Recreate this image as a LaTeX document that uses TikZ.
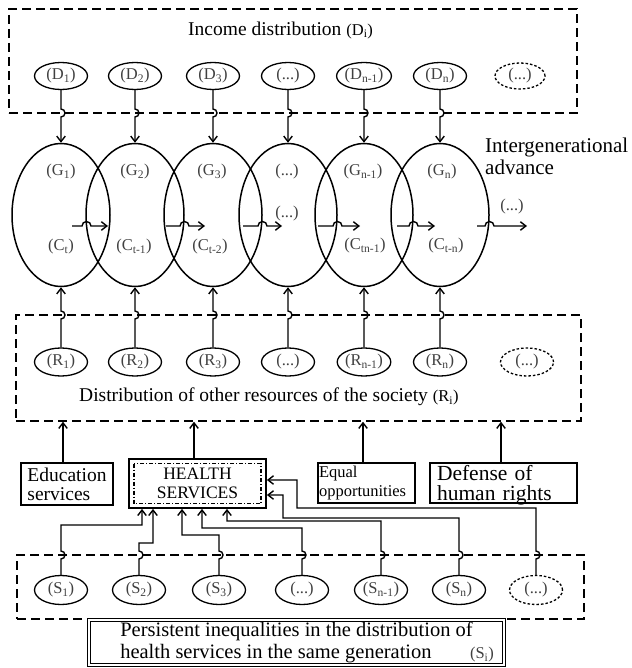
\documentclass[tikz,border=0pt]{standalone}
\usepackage{fontspec}
\setmainfont{Liberation Serif}
\usetikzlibrary{shapes.geometric,arrows.meta}
\newcommand\lblfont{\fontsize{16.5}{16.5}\selectfont}
\begin{document}
\begin{tikzpicture}[x=1pt,y=-1pt,
  lbl/.style={font=\lblfont, text=black!75},
  small/.style={draw, ellipse, line width=1.3pt, minimum width=53pt, minimum height=27pt, inner sep=0pt, lbl},
  smalldash/.style={small, dash pattern=on 2.5pt off 2pt},
  gen/.style={draw, ellipse, line width=1.5pt, minimum width=98pt, minimum height=143pt, inner sep=0pt},
  group/.style={draw, dash pattern=on 9pt off 5pt, line width=1.5pt, inner sep=0pt},
  box/.style={draw, line width=1.5pt, inner sep=0pt, align=left},
  txt/.style={font=\fontsize{19.5}{19}\selectfont, inner sep=0pt},
  link/.style={line width=1.4pt},
  arr/.style={link, -{Straight Barb[length=5.5pt,width=8.5pt]}},
]
\useasboundingbox (0,0) rectangle (631,668);

% ---------- income distribution ----------
\node[group, minimum width=568pt, minimum height=104pt] (Dbox) at (293,61) {};
\node[txt, anchor=west] (Dtitle) at (188,30) {Income distribution {\lblfont(D\textsubscript{i})}};
\node[small] (D1) at (61,76)  {(D\textsubscript{1})};
\node[small] (D2) at (135,76) {(D\textsubscript{2})};
\node[small] (D3) at (213,76) {(D\textsubscript{3})};
\node[small] (D4) at (288,76) {(...)};
\node[small] (D5) at (364,76) {(D\textsubscript{n-1})};
\node[small] (D6) at (440,76) {(D\textsubscript{n})};
\node[smalldash, minimum width=50pt, minimum height=26pt] (D7) at (520,76) {(...)};

% ---------- generations ----------
\node[gen] (G1) at (61,215)  {};
\node[gen] (G2) at (135,215) {};
\node[gen] (G3) at (213,215) {};
\node[gen] (G4) at (288,215) {};
\node[gen] (G5) at (364,215) {};
\node[gen] (G6) at (440,215) {};

\node[lbl] (g1) at (61,172)  {(G\textsubscript{1})};
\node[lbl] (g2) at (135,172) {(G\textsubscript{2})};
\node[lbl] (g3) at (212,172) {(G\textsubscript{3})};
\node[lbl] (g4) at (287,172) {(...)};
\node[lbl] (g5) at (363,172) {(G\textsubscript{n-1})};
\node[lbl] (g6) at (442,172) {(G\textsubscript{n})};
\node[lbl] (c1) at (61,247)  {(C\textsubscript{t})};
\node[lbl] (c2) at (134,247) {(C\textsubscript{t-1})};
\node[lbl] (c3) at (210,247) {(C\textsubscript{t-2})};
\node[lbl] (c4) at (287,214) {(...)};
\node[lbl] (c5) at (365,246) {(C\textsubscript{tn-1})};
\node[lbl] (c6) at (446,246) {(C\textsubscript{t-n})};
\node[lbl] (more) at (512,207) {(...)};

\node[font=\fontsize{21}{22}\selectfont, align=left, anchor=west, inner sep=0pt] (adv) at (485,156)
  {Intergenerational\\advance};

% advance arrows hopping over the ellipse outlines
\coordinate (h1a) at (72,226);  \coordinate (h1b) at (108,226);
\coordinate (h2a) at (166,226); \coordinate (h2b) at (205,226);
\coordinate (h3a) at (243,226); \coordinate (h3b) at (282,226);
\coordinate (h4a) at (318,226); \coordinate (h4b) at (360,226);
\coordinate (h5a) at (397,226); \coordinate (h5b) at (435,226);
\coordinate (h6a) at (477,226); \coordinate (h6b) at (527,226);
\draw[arr] (h1a) -- (82,226)  arc[start angle=180,end angle=360,radius=4.5] -- (h1b);
\draw[arr] (h2a) -- (180,226) arc[start angle=180,end angle=360,radius=4.5] -- (h2b);
\draw[arr] (h3a) -- (258,226) arc[start angle=180,end angle=360,radius=4.5] -- (h3b);
\draw[arr] (h4a) -- (333,226) arc[start angle=180,end angle=360,radius=4.5] -- (h4b);
\draw[arr] (h5a) -- (409,226) arc[start angle=180,end angle=360,radius=4.5] -- (h5b);
\draw[arr] (h6a) -- (485,226) arc[start angle=180,end angle=360,radius=4.5] -- (h6b);

% income into generations
\draw[arr] (D1) -- (61,109)  arc[start angle=-90,end angle=90,radius=4] -- (G1);
\draw[arr] (D2) -- (135,109) arc[start angle=-90,end angle=90,radius=4] -- (G2);
\draw[arr] (D3) -- (213,109) arc[start angle=-90,end angle=90,radius=4] -- (G3);
\draw[arr] (D4) -- (288,109) arc[start angle=-90,end angle=90,radius=4] -- (G4);
\draw[arr] (D5) -- (364,109) arc[start angle=-90,end angle=90,radius=4] -- (G5);
\draw[arr] (D6) -- (440,109) arc[start angle=-90,end angle=90,radius=4] -- (G6);

% ---------- other resources ----------
\node[group, minimum width=565pt, minimum height=106pt] (Rbox) at (298.5,368) {};
\node[small, minimum height=28pt] (R1) at (61,362)  {(R\textsubscript{1})};
\node[small, minimum height=28pt] (R2) at (135,362) {(R\textsubscript{2})};
\node[small, minimum height=28pt] (R3) at (213,362) {(R\textsubscript{3})};
\node[small, minimum height=28pt] (R4) at (288,362) {(...)};
\node[small, minimum height=28pt] (R5) at (364,362) {(R\textsubscript{n-1})};
\node[small, minimum height=28pt] (R6) at (440,362) {(R\textsubscript{n})};
\node[smalldash, minimum height=28pt] (R7) at (527,362) {(...)};
\node[txt, anchor=west] (Rtitle) at (79,397) {Distribution of other resources of the society {\lblfont(R\textsubscript{i})}};

\draw[arr] (R1) -- (61,319)  arc[start angle=90,end angle=-90,radius=4] -- (G1);
\draw[arr] (R2) -- (135,319) arc[start angle=90,end angle=-90,radius=4] -- (G2);
\draw[arr] (R3) -- (213,319) arc[start angle=90,end angle=-90,radius=4] -- (G3);
\draw[arr] (R4) -- (288,319) arc[start angle=90,end angle=-90,radius=4] -- (G4);
\draw[arr] (R5) -- (364,319) arc[start angle=90,end angle=-90,radius=4] -- (G5);
\draw[arr] (R6) -- (440,319) arc[start angle=90,end angle=-90,radius=4] -- (G6);

% ---------- services and rights ----------
\node[box, txt, minimum width=92pt, minimum height=42pt] (Edu) at (67,484)
  {Education\\services};
\node[box, line width=1.8pt, minimum width=137pt, minimum height=49pt, align=center,
      font=\fontsize{17.5}{19}\selectfont] (Hbox) at (197.5,483.5) {HEALTH\\SERVICES};
\draw[line width=1.1pt, dash pattern=on 4pt off 2pt on 1pt off 2pt] (134,463.5) rectangle (261,503.5);
\node[box, minimum width=97pt, minimum height=40pt, text width=95pt, inner xsep=1pt,
      font=\fontsize{16.5}{18.5}\selectfont] (Eq) at (366.5,483)
  {Equal\\opportunities};
\node[box, minimum width=147pt, minimum height=40pt, text width=133pt, inner xsep=7pt, inner ysep=-3pt,
      font=\fontsize{21.5}{20}\selectfont] (Def) at (503.5,483) {\rule{0pt}{20pt}Defense of\\human rights};

\draw[arr] (Edu.north -| 63,0)  -- (Rbox.south -| 63,0);
\draw[arr] (Hbox.north -| 194,0) -- (Rbox.south -| 194,0);
\draw[arr] (Eq.north -| 363,0)  -- (Rbox.south -| 363,0);
\draw[arr] (Def.north -| 501,0) -- (Rbox.south -| 501,0);

% ---------- inequalities within a generation ----------
\node[group, minimum width=567pt, minimum height=64pt] (Sbox) at (300.5,587) {};
\node[small, minimum height=29pt] (S1) at (61,590)  {(S\textsubscript{1})};
\node[small, minimum height=29pt] (S2) at (139,590) {(S\textsubscript{2})};
\node[small, minimum height=29pt] (S3) at (219,590) {(S\textsubscript{3})};
\node[small, minimum height=29pt] (S4) at (302,590) {(...)};
\node[small, minimum height=29pt] (S5) at (381,590) {(S\textsubscript{n-1})};
\node[small, minimum height=29pt] (S6) at (459,590) {(S\textsubscript{n})};
\node[smalldash, minimum height=29pt] (S7) at (536,590) {(...)};

\draw[arr] (S1) -- (61,559)  arc[start angle=90,end angle=-90,radius=4] -- (61,525)  -- (142,525) -- (Hbox.south -| 142,0);
\draw[arr] (S2) -- (139,559) arc[start angle=90,end angle=-90,radius=4] -- (139,543) -- (153,543) -- (Hbox.south -| 153,0);
\draw[arr] (S3) -- (219,559) arc[start angle=90,end angle=-90,radius=4] -- (219,535) -- (182,535) -- (Hbox.south -| 182,0);
\draw[arr] (S4) -- (302,559) arc[start angle=90,end angle=-90,radius=4] -- (302,528) -- (202,528) -- (Hbox.south -| 202,0);
\draw[arr] (S5) -- (381,559) arc[start angle=90,end angle=-90,radius=4] -- (381,521) -- (227,521) -- (Hbox.south -| 227,0);
\draw[arr] (S6) -- (459,559) arc[start angle=90,end angle=-90,radius=4] -- (459,518) -- (283,518) -- (283,495) -- (Hbox.east |- 0,495);
\draw[arr] (S7) -- (536,559) arc[start angle=90,end angle=-90,radius=4] -- (536,508) -- (297,508) -- (297,480) -- (Hbox.east |- 0,480);

\node[draw, double, double distance=2.5pt, line width=1pt, minimum width=415pt, minimum height=45pt,
      align=left, font=\fontsize{20.5}{22}\selectfont, inner sep=0pt] (Pbox) at (296.5,642.5)
  {Persistent inequalities in the distribution of\\health services in the same generation\hspace{44pt}};
\node[lbl] (Si) at (482,655) {(S\textsubscript{i})};
\end{tikzpicture}
\end{document}
